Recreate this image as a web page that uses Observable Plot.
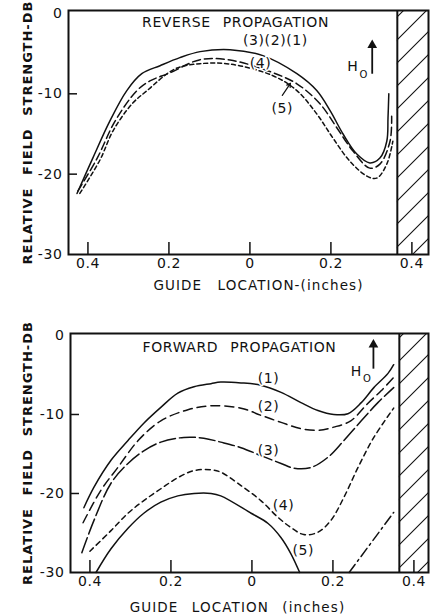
<!DOCTYPE html>
<html><head><meta charset="utf-8">
<script src="https://cdn.jsdelivr.net/npm/d3@7"></script>
<script src="https://cdn.jsdelivr.net/npm/@observablehq/plot@0.6"></script>
<style>
body{margin:0;background:#fff;}
#chart{width:430px;}
svg{display:block;}
svg text{letter-spacing:0.6px;}
</style></head><body><div id="chart"></div>
<script>
// ---------- data ----------
const xTicks = [-0.4, -0.2, 0, 0.2, 0.4];
const yTicks = [0, -10, -20, -30];
const wallX = 0.364;

// Reverse propagation: curves (1)(2)(3) coincide (solid), (4) long dash, (5) short dash
const rev123 = [[-0.427,-22.4],[-0.388,-18],[-0.346,-13.4],[-0.304,-9.6],[-0.267,-7.5],[-0.222,-6.5],[-0.173,-5.5],[-0.123,-4.75],[-0.049,-4.5],[0.032,-5.25],[0.116,-7.5],[0.165,-9.6],[0.198,-12.1],[0.23,-15],[0.264,-17.5],[0.296,-18.6],[0.321,-18],[0.338,-15.9],[0.341,-13],[0.343,-10]];
const rev4 = [[-0.425,-22.1],[-0.377,-18],[-0.333,-13.4],[-0.279,-9.6],[-0.247,-8.4],[-0.198,-7.4],[-0.123,-5.75],[-0.049,-5.8],[0.042,-7.1],[0.116,-8.75],[0.173,-11.25],[0.215,-14.25],[0.254,-17.1],[0.296,-19.25],[0.321,-18.75],[0.346,-15.9],[0.35,-12.8]];
const rev5 = [[-0.42,-22.4],[-0.37,-18.2],[-0.338,-14.6],[-0.291,-11.25],[-0.254,-9.6],[-0.185,-6.9],[-0.123,-6.25],[-0.049,-6.3],[0.057,-7.75],[0.116,-9.6],[0.165,-12.5],[0.205,-15.5],[0.247,-18.4],[0.289,-20.25],[0.313,-20.5],[0.338,-18.75],[0.353,-15.9]];

// Forward propagation
const fwd1 = [[-0.415,-21.8],[-0.39,-19.2],[-0.348,-15.8],[-0.306,-13.3],[-0.267,-11.1],[-0.225,-9.1],[-0.183,-7.3],[-0.143,-6.5],[-0.101,-6.1],[-0.077,-5.9],[-0.027,-6.0],[0.022,-6.3],[0.072,-7.2],[0.121,-8.5],[0.163,-9.5],[0.202,-10.0],[0.237,-9.9],[0.27,-8.5],[0.301,-6.6],[0.336,-4.8],[0.35,-3.7]];
const fwd2 = [[-0.417,-23.7],[-0.373,-19.6],[-0.331,-16.7],[-0.281,-13.3],[-0.225,-10.8],[-0.158,-9.4],[-0.101,-8.9],[-0.027,-9.2],[0.022,-10.1],[0.072,-11.0],[0.121,-11.8],[0.163,-12.0],[0.202,-11.6],[0.244,-10.8],[0.286,-8.6],[0.319,-7.0],[0.35,-5.3]];
const fwd3 = [[-0.42,-27.5],[-0.39,-23.4],[-0.348,-18.7],[-0.306,-16.2],[-0.267,-14.6],[-0.225,-13.5],[-0.168,-12.9],[-0.119,-13.0],[-0.077,-13.5],[-0.027,-14.2],[0.022,-15.2],[0.072,-16.2],[0.104,-16.8],[0.146,-16.7],[0.188,-15.4],[0.227,-13.3],[0.27,-10.8],[0.311,-8.5],[0.35,-6.6]];
const fwd4 = [[-0.4,-27.3],[-0.348,-24.7],[-0.306,-22.5],[-0.267,-20.9],[-0.225,-19.4],[-0.183,-18.0],[-0.143,-17.1],[-0.101,-17.0],[-0.077,-17.3],[-0.027,-19.0],[0.022,-20.9],[0.064,-23.0],[0.096,-24.3],[0.128,-25.2],[0.163,-24.9],[0.195,-23.4],[0.227,-20.5],[0.262,-16.7],[0.301,-12.9],[0.35,-9.2]];
const fwd5 = [[-0.385,-30],[-0.348,-27],[-0.306,-24.4],[-0.267,-22.5],[-0.225,-21.1],[-0.183,-20.3],[-0.143,-20.0],[-0.101,-20.0],[-0.077,-20.3],[-0.002,-22.5],[0.04,-23.8],[0.072,-25.6],[0.096,-27.6],[0.118,-30]];
const fwd5b = [[0.24,-30],[0.35,-22.4]];

const revLabels = [{text:"(3)(2)(1)",x:0.063,y:-3.4},{text:"(4)",x:0.026,y:-6.2},{text:"(5)",x:0.08,y:-11.8}];
const fwdLabels = [{text:"(1)",x:0.041,y:-5.4},{text:"(2)",x:0.041,y:-9.0},{text:"(3)",x:0.041,y:-14.6},{text:"(4)",x:0.078,y:-21.5},{text:"(5)",x:0.127,y:-27.2}];
const revH0 = {hx:0.254, hy:-6.6, ox:0.281, oy:-7.6, ax:0.302, ay1:-7.5, ay2:-3.7};
const fwdH0 = {hx:0.258, hy:-4.6, ox:0.285, oy:-5.5, ax:0.3, ay1:-4.2, ay2:-0.9};
const revPointer = [{x1:0.08, y1:-10.2, x2:0.1, y2:-8.7}];

const yTitle = "RELATIVE FIELD STRENGTH-DB";
// ---------- drawing ----------
const font = "DejaVu Sans";
const ink = "#111";
const fmtX = d => d === 0 ? "0" : Math.abs(d).toFixed(1);

function panel(o) {
  const plotH = o.height - o.marginTop - o.marginBottom;
  const line = (data, dash) => Plot.line(data, {x: d => d[0], y: d => d[1], curve: "catmull-rom", stroke: ink, strokeWidth: 1.5, strokeDasharray: dash});
  const marks = [
    Plot.rect([{x1: wallX, x2: o.xDomain[1], y1: o.yDomain[0], y2: o.yDomain[1]}], {x1:"x1", x2:"x2", y1:"y1", y2:"y2", fill: `url(#${o.id})`}),
    Plot.ruleX([wallX], {stroke: ink, strokeWidth: 2}),
    Plot.frame({stroke: ink, strokeWidth: 2}),
    Plot.ruleX(xTicks, {stroke: ink, strokeWidth: 1.5, insetTop: plotH - 12}),
    Plot.ruleY(yTicks.filter(d => d !== 0 && d !== -30), {stroke: ink, strokeWidth: 1.5, insetRight: 430 - o.marginLeft - 2 - 9}),
    Plot.axisX(xTicks, {tickSize: 0, tickPadding: 4, tickFormat: fmtX, fontSize: 14, label: null}),
    Plot.axisY(yTicks, {tickSize: 0, tickPadding: 6, tickFormat: d => String(d), fontSize: 14, label: null}),
    ...o.series.map(([data, dash]) => line(data, dash)),
    Plot.text(o.labels, {x: "x", y: "y", text: "text", fontSize: 14, fill: ink, stroke: "white", strokeWidth: 3}),
    Plot.text([o.title], {frameAnchor: "top", lineAnchor: "middle", dy: o.titleDy, dx: o.titleDx, fontSize: 14, fill: ink}),
    Plot.text([o.xTitle], {frameAnchor: "bottom", lineAnchor: "middle", dy: o.xTitleDy, dx: o.xTitleDx, fontSize: 13.5, fill: ink}),
    Plot.text([yTitle], {frameAnchor: "left", textAnchor: "middle", lineAnchor: "middle", rotate: -90, dx: o.yTitleDx, fontSize: 13, fontWeight: "bold", fill: ink}),
    Plot.text(["H"], {x: () => o.h0.hx, y: () => o.h0.hy, fontSize: 14, fill: ink}),
    Plot.text(["O"], {x: () => o.h0.ox, y: () => o.h0.oy, fontSize: 10, fill: ink}),
    Plot.link([o.h0], {x1: "ax", x2: "ax", y1: "ay1", y2: "ay2", stroke: ink, strokeWidth: 1.8}),
    Plot.dot([o.h0], {x: "ax", y: "ay2", symbol: "triangle", r: 3.6, fill: ink, dy: 2})
  ];
  if (o.pointer) marks.push(Plot.arrow(o.pointer, {x1:"x1", y1:"y1", x2:"x2", y2:"y2", stroke: ink, strokeWidth: 1.2, headLength: 5}));
  const svg = Plot.plot({
    width: 430, height: o.height,
    marginTop: o.marginTop, marginBottom: o.marginBottom, marginLeft: o.marginLeft, marginRight: 2,
    x: {domain: o.xDomain},
    y: {domain: o.yDomain},
    style: {fontFamily: font, color: ink, background: "white"},
    marks
  });
  const s = d3.select(svg);
  const p = s.insert("defs", ":first-child").append("pattern")
    .attr("id", o.id).attr("patternUnits", "userSpaceOnUse").attr("width", 23).attr("height", 23);
  p.append("path").attr("d", "M0,23L23,0M-6,6L6,-6M17,29L29,17").attr("stroke", ink).attr("stroke-width", 1.1).attr("fill", "none");
  // text spacing like the hand lettering
  const spacing = new Map([[o.title, ["0.6px", "7px"]], [o.xTitle, ["1.1px", o.xWord]], [yTitle, ["1px", "7px"]]]);
  s.selectAll("text").each(function () {
    const sp = spacing.get(this.textContent);
    if (sp) { this.style.letterSpacing = sp[0]; this.style.wordSpacing = sp[1]; }
  });
  return svg;
}

const root = document.getElementById("chart");
root.append(panel({
  id: "hatchTop", height: 300, marginTop: 10, marginBottom: 46, marginLeft: 68,
  xDomain: [-0.448, 0.441], yDomain: [-30, 0.37],
  series: [[rev123, null], [rev4, "8,4"], [rev5, "4,3"]],
  labels: revLabels, title: "REVERSE PROPAGATION", titleDy: 12, titleDx: -13,
  xTitle: "GUIDE LOCATION-(inches)", xWord: "10px", xTitleDy: 31, xTitleDx: 10, yTitleDx: -41,
  h0: revH0, pointer: revPointer
}));
root.append(panel({
  id: "hatchBottom", height: 316, marginTop: 33, marginBottom: 44, marginLeft: 70,
  xDomain: [-0.448, 0.436], yDomain: [-30, 0.25],
  series: [[fwd1, null], [fwd2, "9,5"], [fwd3, "16,4"], [fwd4, "5,4"], [fwd5, null], [fwd5b, "10,4,2,4"]],
  labels: fwdLabels, title: "FORWARD PROPAGATION", titleDy: 14, titleDx: -10,
  xTitle: "GUIDE LOCATION (inches)", xWord: "8px", xTitleDy: 35, xTitleDx: -12, yTitleDx: -43,
  h0: fwdH0, pointer: null
}));
</script></body></html>
